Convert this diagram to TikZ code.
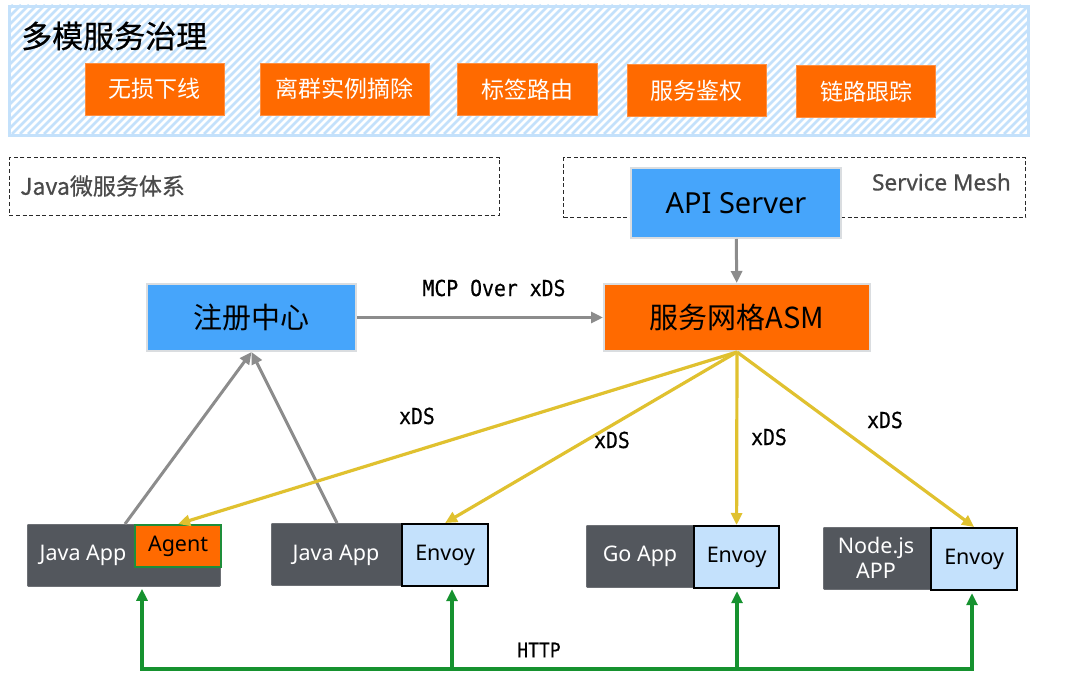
\documentclass[tikz,border=0pt]{standalone}
\usepackage{fontspec}
\setmainfont{Noto Sans CJK SC}
\newfontfamily\latfont{Noto Sans}
\newfontfamily\boldcjk[FakeBold=0.6]{Noto Sans CJK SC}
\newfontfamily\boldlat[FakeBold=0.6]{Noto Sans}
\newfontfamily\condmono[FakeStretch=0.9,FakeBold=0.4]{DejaVu Sans Mono}
\usetikzlibrary{arrows.meta,calc}
\definecolor{tagorange}{HTML}{FF6A00}
\definecolor{boxblue}{HTML}{46A5FB}
\definecolor{boxedge}{HTML}{DADDE0}
\definecolor{hatchblue}{HTML}{C4E1FB}
\definecolor{appgray}{HTML}{53575D}
\definecolor{envoyblue}{HTML}{C4E1FC}
\definecolor{agentgreen}{HTML}{1E8E3A}
\definecolor{linkyellow}{HTML}{E0C12F}
\definecolor{linkgreen}{HTML}{16922F}
\definecolor{linkgray}{HTML}{8C8C8C}
\definecolor{regiontext}{HTML}{4A4A4A}
\definecolor{dashgray}{HTML}{2A2A2A}
\begin{document}
\begin{tikzpicture}[x=1pt,y=-1pt,
  panelbox/.style={draw=hatchblue, line width=2.8pt, anchor=north west, inner sep=0pt},
  hatch/.style={draw=hatchblue, line width=2.6pt},
  tagbox/.style={fill=tagorange, draw=tagorange!75!white, line width=0.8pt, text=white,
    font=\fontsize{23}{23}\selectfont, minimum height=52, inner sep=0pt},
  region/.style={draw=dashgray, dash pattern=on 4pt off 2.6pt, line width=1.4pt, anchor=north west, inner sep=0pt},
  regiontxt/.style={text=regiontext, font=\boldcjk\fontsize{23}{23}\selectfont, inner sep=0pt},
  mainbox/.style={draw=boxedge, line width=2pt, anchor=north west, inner sep=0pt, text=black},
  appbox/.style={fill=appgray, draw=appgray!85!white, line width=0.8pt, anchor=north west, inner sep=0pt, rounded corners=1pt},
  applabel/.style={text=white, font=\latfont\fontsize{21.5}{25}\selectfont, inner sep=0pt, align=center},
  envoybox/.style={fill=envoyblue, draw=black, line width=2.2pt, anchor=north west, inner sep=0pt,
    font=\latfont\fontsize{21.5}{25}\selectfont},
  agentbox/.style={fill=tagorange, draw=agentgreen, line width=2.2pt, anchor=north west, inner sep=0pt,
    font=\latfont\fontsize{21.5}{25}\selectfont},
  monolabel/.style={font=\condmono\fontsize{22}{22}\selectfont, inner sep=0pt, text=black},
  grayarrow/.style={draw=linkgray, line width=3pt, -{Triangle[length=12pt,width=11pt]}},
  yarrow/.style={draw=linkyellow, line width=3.2pt, -{Triangle[length=12pt,width=11pt]}},
  garrow/.style={draw=linkgreen, line width=3.2pt, -{Triangle[length=12pt,width=11pt]}},
  gline/.style={draw=linkgreen, line width=3.2pt, {Triangle[length=12pt,width=11pt]}-{Triangle[length=12pt,width=11pt]}}
]
\useasboundingbox (0,0) rectangle (1080,674);
\fill[white] (0,0) rectangle (1080,674);

% ---------- top hatched panel ----------
\begin{scope}
  \clip (8,5) rectangle (1027,134);
  \foreach \i in {-140,-132,...,1040} \draw[hatch] (\i,134) -- ++(129,-129);
\end{scope}
\node[panelbox, minimum width=1019, minimum height=129] (panel) at (8,5) {};
\node[anchor=west, inner sep=0pt, font=\boldcjk\fontsize{31}{31}\selectfont] (title) at (21,36) {多模服务治理};

\node[tagbox, minimum width=139] (t1) at (154.5,89) {无损下线};
\node[tagbox, minimum width=169] (t2) at (344.5,89) {离群实例摘除};
\node[tagbox, minimum width=140] (t3) at (527,89.5) {标签路由};
\node[tagbox, minimum width=139] (t4) at (696.5,90.5) {服务鉴权};
\node[tagbox, minimum width=139] (t5) at (866,91.5) {链路跟踪};

% ---------- regions ----------
\node[region, minimum width=490, minimum height=58] (javasys) at (8.6,157) {};
\node[regiontxt, anchor=west] (javasystxt) at (20,186) {Java微服务体系};
\node[region, minimum width=462, minimum height=60] (meshsys) at (563,157) {};
\node[regiontxt, anchor=east, font=\boldlat\fontsize{22.5}{23}\selectfont] (meshsystxt) at (1011,182) {Service Mesh};

% ---------- main boxes ----------
\node[mainbox, fill=boxblue, minimum width=210, minimum height=70, font=\latfont\fontsize{29}{29}\selectfont] (api) at (630,167) {API Server};
\node[mainbox, fill=boxblue, minimum width=209, minimum height=67, font=\fontsize{29}{29}\selectfont] (reg) at (146,283) {注册中心};
\node[mainbox, fill=tagorange, minimum width=266, minimum height=67, font=\fontsize{29}{29}\selectfont] (asm) at (603,283) {服务网格ASM};

% ---------- applications ----------
\node[appbox, minimum width=193, minimum height=62] (ja1) at (27,524) {};
\node[agentbox, minimum width=86, minimum height=42] (agent) at (134,524) {Agent};
\node[applabel] (lab1) at (83,555) {Java App};

\node[appbox, minimum width=216, minimum height=62] (ja2) at (271,523) {};
\node[envoybox, minimum width=86, minimum height=62] (env2) at (401,523) {Envoy};
\node[applabel] (lab2) at (336,555) {Java App};

\node[appbox, minimum width=192, minimum height=62] (goapp) at (586,525) {};
\node[envoybox, minimum width=85, minimum height=62] (env3) at (693,525) {Envoy};
\node[applabel] (lab3) at (640,556) {Go App};

\node[appbox, minimum width=193, minimum height=62] (nodeapp) at (823,527) {};
\node[envoybox, minimum width=86, minimum height=62] (env4) at (930,527) {Envoy};
\node[applabel] (lab4) at (876,558) {Node.js\\APP};

% ---------- gray connectors ----------
\draw[grayarrow] (reg) -- (asm);
\node[monolabel] (mcp) at (494,288) {MCP Over xDS};
\draw[grayarrow] (api) -- (asm);
\draw[grayarrow] ($(ja1.north west)+(98,0)$) -- (reg.south);
\draw[grayarrow] ($(ja2.north west)+(66,0)$) -- (reg.south);

% ---------- yellow xDS connectors ----------
\draw[yarrow] (asm.south) -- (agent.north);
\draw[yarrow] (asm.south) -- (env2.north);
\draw[yarrow] (asm.south) -- (env3.north);
\draw[yarrow] (asm.south) -- (env4.north);
\node[monolabel] (x1) at (417,416) {xDS};
\node[monolabel] (x2) at (612,440) {xDS};
\node[monolabel] (x3) at (769,437) {xDS};
\node[monolabel] (x4) at (885,420) {xDS};

% ---------- green HTTP connectors ----------
\coordinate (h1) at (142,669);
\coordinate (h2) at (452,669);
\coordinate (h3) at (737,669);
\coordinate (h4) at (972,669);
\draw[gline] ($(h1 |- ja1.south)+(0,2)$) -- (h1) -- (h4) -- ($(h4 |- env4.south)+(0,2)$);
\draw[garrow] (h2) -- ($(h2 |- env2.south)+(0,2)$);
\draw[garrow] (h3) -- ($(h3 |- env3.south)+(0,2)$);
\node[monolabel, font=\condmono\fontsize{20}{20}\selectfont] (http) at (539,650) {HTTP};
\end{tikzpicture}
\end{document}
